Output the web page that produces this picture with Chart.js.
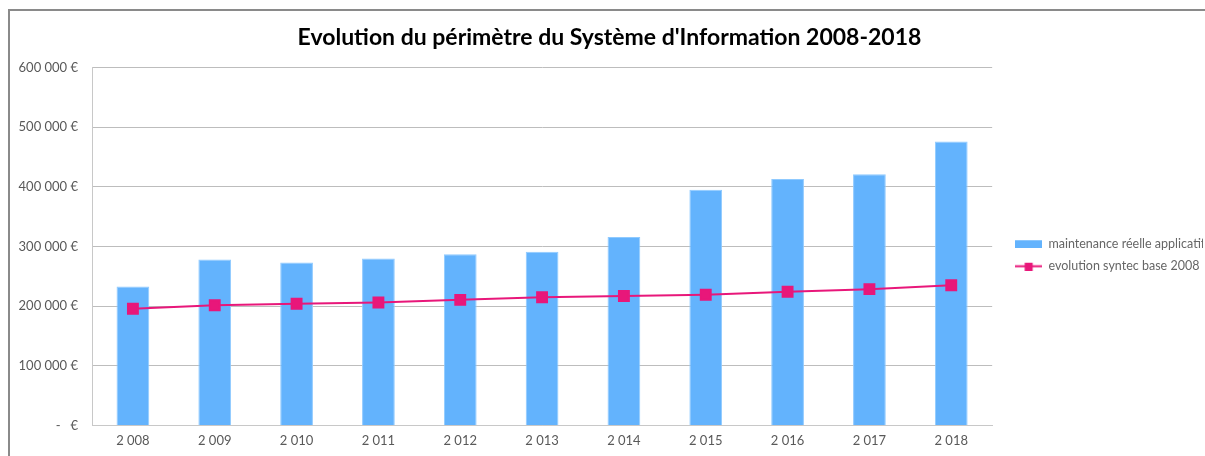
<!DOCTYPE html>
<html>
<head>
<meta charset="utf-8">
<script src="https://cdn.jsdelivr.net/npm/chart.js@4/dist/chart.umd.min.js"></script>
<style>
  html, body { margin: 0; padding: 0; background: #fff; overflow: hidden; }
  #frame {
    position: absolute; left: 8px; top: 9px;
    width: 1220px; height: 460px;
    border-top: 2px solid #8a8a8a; border-left: 2px solid #8a8a8a;
  }
  #wrap { position: absolute; left: 6px; top: 0; width: 1187px; height: 446px; }
</style>
</head>
<body>
<div id="frame"><div id="wrap"><canvas id="myChart"></canvas></div></div>
<script>
  // years and values
  const years = [2008, 2009, 2010, 2011, 2012, 2013, 2014, 2015, 2016, 2017, 2018];
  const maintenance = [233000, 278000, 273000, 280000, 287000, 291000, 316000, 395000, 413000, 421000, 476000];
  const syntec = [195500, 201500, 204000, 206000, 210500, 215000, 217000, 219000, 224000, 228500, 235000];
  const yTicks = [0, 100000, 200000, 300000, 400000, 500000, 600000];

  const blue = '#63b3fd';
  const pink = '#e8177a';
  const grey = '#595959';
  const fontFam = 'Lato, "Open Sans", sans-serif';

  // thousands with a space: 600000 -> "600 000"
  function spaced(n) {
    return String(n).replace(/\B(?=(\d{3})+(?!\d))/g, ' ');
  }

  // little legend pictures
  function barSwatch() {
    const c = document.createElement('canvas');
    c.width = 27; c.height = 9;
    const g = c.getContext('2d');
    g.fillStyle = blue;
    g.fillRect(0, 1, 27, 8);
    return c;
  }
  function lineSwatch() {
    const c = document.createElement('canvas');
    c.width = 27; c.height = 9;
    const g = c.getContext('2d');
    g.strokeStyle = pink; g.lineWidth = 2;
    g.beginPath(); g.moveTo(0, 4.5); g.lineTo(27, 4.5); g.stroke();
    g.fillStyle = pink;
    g.fillRect(9.5, 1, 8, 8);
    return c;
  }
  const swatches = [barSwatch(), lineSwatch()];

  const ctx = document.getElementById('myChart').getContext('2d');

  const myChart = new Chart(ctx, {
    type: 'bar',
    data: {
      labels: years,
      datasets: [
        {
          label: 'maintenance réelle applicatif',
          data: maintenance,
          backgroundColor: blue,
          borderColor: '#8fcaff',
          borderWidth: 1,
          categoryPercentage: 1,
          barPercentage: 0.4,
          order: 2
        },
        {
          type: 'line',
          label: 'evolution syntec base 2008',
          data: syntec,
          borderColor: pink,
          backgroundColor: pink,
          borderWidth: 2,
          pointStyle: 'rect',
          pointRadius: 7,
          pointHoverRadius: 7,
          tension: 0,
          fill: false,
          order: 1
        }
      ]
    },
    options: {
      responsive: true,
      maintainAspectRatio: false,
      animation: false,
      layout: { padding: 0 },
      plugins: {
        title: {
          display: true,
          text: "Evolution du périmètre du Système d'Information 2008-2018",
          color: '#000',
          font: { family: fontFam, size: 23, weight: 'bold' },
          padding: { top: 13, bottom: 16 }
        },
        legend: {
          position: 'right',
          // blank title only pushes the two entries down a bit
          title: { display: true, text: ' ', font: { size: 10 }, padding: { top: 30, bottom: 0 } },
          labels: {
            color: '#000',
            font: { family: fontFam, size: 12.5 },
            usePointStyle: true,
            pointStyleWidth: 27,
            padding: 10,
            generateLabels(chart) {
              return chart.data.datasets.map((ds, i) => ({
                text: ds.label,
                datasetIndex: i,
                pointStyle: swatches[i],
                fillStyle: ds.backgroundColor,
                strokeStyle: ds.borderColor,
                lineWidth: 0,
                hidden: false
              }));
            }
          }
        },
        tooltip: { enabled: false }
      },
      scales: {
        x: {
          grid: { display: false, drawTicks: false },
          border: { color: '#c8c8c8', width: 1 },
          ticks: {
            color: grey,
            font: { family: fontFam, size: 13 },
            padding: 8,
            maxRotation: 0,
            callback(v, i) { return spaced(years[i]); }
          }
        },
        y: {
          min: 0,
          max: 600000,
          afterBuildTicks(scale) { scale.ticks = yTicks.map(v => ({ value: v })); },
          afterFit(scale) { scale.width = 76; },
          grid: { color: '#bdbdbd', drawTicks: false },
          border: { color: '#c8c8c8', width: 1 },
          ticks: {
            color: grey,
            font: { family: fontFam, size: 13 },
            padding: 14,
            callback(v) { return v === 0 ? '-   €' : spaced(v) + ' €'; }
          }
        },
        // empty right axis, only keeps a gap before the legend
        gap: {
          position: 'right',
          display: true,
          grid: { display: false, drawTicks: false },
          border: { display: false },
          ticks: { display: false },
          afterFit(scale) { scale.width = 13; }
        }
      }
    }
  });
</script>
</body>
</html>
